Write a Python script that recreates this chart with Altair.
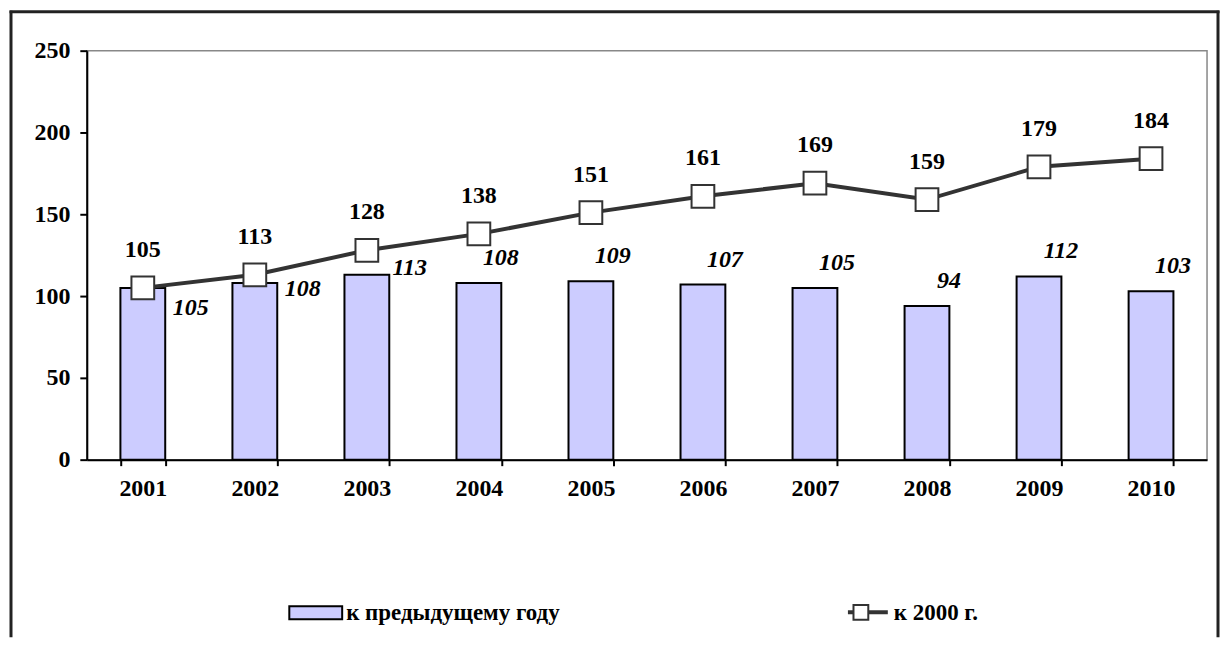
import altair as alt
import pandas as pd

years = ["2001", "2002", "2003", "2004", "2005", "2006", "2007", "2008", "2009", "2010"]
prev_year = [105, 108, 113, 108, 109, 107, 105, 94, 112, 103]
vs_2000 = [105, 113, 128, 138, 151, 161, 169, 159, 179, 184]
y_ticks = [0, 50, 100, 150, 200, 250]
legend_labels = ["к предыдущему году", "к 2000 г."]

df = pd.DataFrame({"year": years, "prev": prev_year, "base": vs_2000})
one = pd.DataFrame({"a": [0]})

FONT = "Liberation Serif, Times New Roman, serif"
LAV = "#CCCCFF"
LINE = "#333333"
FRAME = "#222222"

x_enc = alt.X(
    "year:N",
    sort=years,
    scale=alt.Scale(paddingInner=0.6, paddingOuter=0.3),
    axis=alt.Axis(title=None, labelAngle=0, tickBand="extent", tickSize=6,
                  labelPadding=11),
)
y_enc = alt.Y(
    "prev:Q",
    scale=alt.Scale(domain=[0, 250], nice=False),
    axis=alt.Axis(title=None, values=y_ticks, tickSize=7, labelPadding=10),
)

bars = alt.Chart(df).mark_bar(fill=LAV, stroke="black", strokeWidth=2).encode(
    x=x_enc, y=y_enc
)

line = alt.Chart(df).mark_line(color=LINE, strokeWidth=4).encode(
    x="year:N", y="base:Q"
)
pts = alt.Chart(df).mark_point(
    shape="square", size=520, filled=True, fill="white", stroke=LINE, strokeWidth=2, opacity=1
).encode(x="year:N", y="base:Q")

line_lbl = alt.Chart(df).mark_text(
    font=FONT, fontSize=24, fontWeight="bold", color="black", dy=-31, baseline="alphabetic"
).encode(x="year:N", y="base:Q", text="base:Q")


def bar_label(sel, dx, dy):
    return alt.Chart(df).transform_filter(
        alt.FieldOneOfPredicate(field="year", oneOf=sel)
    ).mark_text(
        font=FONT, fontSize=24, fontWeight="bold", fontStyle="italic", color="black",
        dx=dx, dy=dy, baseline="middle"
    ).encode(x="year:N", y="prev:Q", text="prev:Q")


lbl_a = bar_label(["2001"], 48, 20)
lbl_b = bar_label(["2002"], 48, 6)
lbl_c = bar_label(["2003"], 43, -7)
lbl_d = bar_label(years[3:], 22, -25)

# outer frame (left, top, right edges; bottom edge lies below the visible page)
frame_top = alt.Chart(one).mark_rule(color=FRAME, strokeWidth=3).encode(
    x=alt.value(-77.5), x2=alt.value(1135.5), y=alt.value(-39)
)
frame_left = alt.Chart(one).mark_rule(color=FRAME, strokeWidth=3).encode(
    x=alt.value(-76), y=alt.value(-40), y2=alt.value(588)
)
frame_right = alt.Chart(one).mark_rule(color=FRAME, strokeWidth=3).encode(
    x=alt.value(1134), y=alt.value(-40), y2=alt.value(588)
)

leg_rect = alt.Chart(one).mark_rect(fill=LAV, stroke="black", strokeWidth=2).encode(
    x=alt.value(203), x2=alt.value(256), y=alt.value(557), y2=alt.value(570)
)
leg_text1 = alt.Chart(one).mark_text(
    font=FONT, fontSize=23, fontWeight="bold", align="left", baseline="middle", color="black"
).encode(x=alt.value(260), y=alt.value(564), text=alt.value(legend_labels[0]))
leg_line = alt.Chart(one).mark_rule(color=LINE, strokeWidth=4).encode(
    x=alt.value(763), x2=alt.value(803), y=alt.value(563)
)
leg_pt = alt.Chart(one).mark_point(
    shape="square", size=220, filled=True, fill="white", stroke=LINE, strokeWidth=2, opacity=1
).encode(x=alt.value(776), y=alt.value(563))
leg_text2 = alt.Chart(one).mark_text(
    font=FONT, fontSize=23, fontWeight="bold", align="left", baseline="middle", color="black"
).encode(x=alt.value(809), y=alt.value(564), text=alt.value(legend_labels[1]))

chart = alt.layer(
    bars, line, pts, line_lbl, lbl_a, lbl_b, lbl_c, lbl_d,
    frame_top, frame_left, frame_right,
    leg_rect, leg_text1, leg_line, leg_pt, leg_text2
).properties(
    width=1123, height=410, padding=0, background="white"
).configure_view(
    stroke="#888888", strokeWidth=1.5
).configure_axis(
    grid=False, domainColor="black", domainWidth=2, tickColor="black", tickWidth=2,
    labelFont=FONT, labelFontSize=24, labelFontWeight="bold", labelColor="black",
)

chart.save("out.html", embed_options={"renderer": "svg", "actions": False})
